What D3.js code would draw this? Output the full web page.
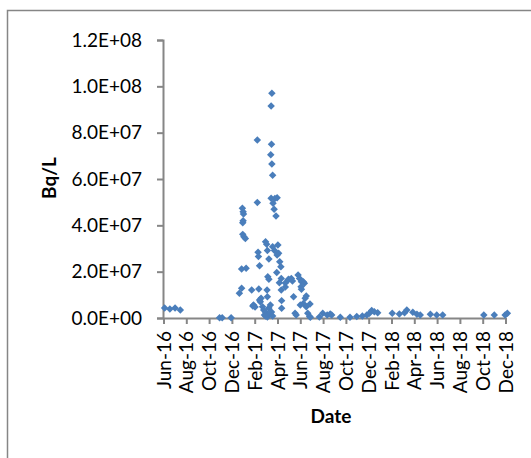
<!DOCTYPE html>
<html>
<head>
<meta charset="utf-8">
<script src="https://cdn.jsdelivr.net/npm/d3@7"></script>
<style>
  body { margin: 0; background: #fff; }
  svg { display: block; font-family: Lato, "Open Sans", sans-serif; }
</style>
</head>
<body>
<svg id="chart" width="531" height="458"></svg>
<script>
// sample dates and activity (Bq/L)
var sampleDates = [
  "2016-06-13", "2016-06-27", "2016-07-11", "2016-07-25", "2016-11-07", "2016-11-14", "2016-12-08",
  "2016-12-30", "2017-01-05", "2017-01-05", "2017-01-17", "2017-01-07", "2017-01-09", "2017-01-10",
  "2017-01-09", "2017-01-08", "2017-01-08", "2017-01-11", "2017-01-15", "2017-02-01", "2017-02-06",
  "2017-02-10", "2017-02-04", "2017-02-16", "2017-02-16", "2017-02-18", "2017-02-19", "2017-02-22",
  "2017-02-20", "2017-02-26", "2017-02-24", "2017-02-22", "2017-03-02", "2017-03-05", "2017-03-07",
  "2017-03-10", "2017-03-15", "2017-03-19", "2017-03-23", "2017-03-26", "2017-03-10", "2017-03-13",
  "2017-03-15", "2017-03-19", "2017-03-16", "2017-03-19", "2017-03-14", "2017-03-15", "2017-03-27",
  "2017-03-25", "2017-03-26", "2017-03-24", "2017-03-27", "2017-03-29", "2017-03-25", "2017-03-30",
  "2017-04-02", "2017-04-07", "2017-04-10", "2017-04-04", "2017-03-29", "2017-04-03", "2017-04-10",
  "2017-04-14", "2017-04-12", "2017-04-17", "2017-04-20", "2017-04-09", "2017-04-21", "2017-04-16",
  "2017-04-21", "2017-04-22", "2017-04-22", "2017-03-21", "2017-03-29", "2017-03-10",
  "2017-05-02", "2017-05-09", "2017-05-11", "2017-05-18", "2017-05-21", "2017-05-02", "2017-06-05",
  "2017-06-09", "2017-06-14", "2017-06-19", "2017-06-22", "2017-06-14", "2017-06-13", "2017-05-24",
  "2017-06-27", "2017-06-24", "2017-06-19", "2017-06-11", "2017-05-28", "2017-05-31", "2017-07-07",
  "2017-06-27", "2017-07-01", "2017-07-06", "2017-07-08",
  "2017-08-01", "2017-08-10", "2017-08-22", "2017-08-30", "2017-09-03", "2017-09-26", "2017-10-22",
  "2017-11-09", "2017-11-24", "2017-12-06", "2017-12-13", "2017-12-19", "2017-12-26", "2018-01-04",
  "2018-02-12", "2018-03-03", "2018-03-17", "2018-03-23", "2018-04-08", "2018-04-19", "2018-04-28",
  "2018-05-25", "2018-06-11", "2018-06-27", "2018-10-15", "2018-11-12", "2018-12-11", "2018-12-17"
];
var sampleValues = [
  4.3e6, 3.9e6, 4.3e6, 3.5e6, 0.13e6, 0.13e6, 0.13e6,
  10.7e6, 12.8e6, 21.2e6, 21.5e6, 47.4e6, 45.9e6, 44.9e6,
  42.0e6, 41.1e6, 36.1e6, 35.1e6, 34.3e6, 12.1e6, 5.6e6,
  4.7e6, 5.2e6, 76.8e6, 49.9e6, 28.4e6, 26.5e6, 22.6e6,
  12.5e6, 8.5e6, 7.0e6, 7.8e6, 4.9e6, 3.5e6, 1.3e6,
  2.6e6, 0.4e6, 4.3e6, 5.6e6, 2.6e6, 32.9e6, 31.8e6,
  29.1e6, 25.5e6, 17.8e6, 16.7e6, 12.1e6, 9.2e6, 97.0e6,
  91.5e6, 75.0e6, 70.5e6, 66.5e6, 61.6e6, 51.7e6, 49.5e6,
  46.9e6, 44.0e6, 51.9e6, 51.6e6, 30.8e6, 29.1e6, 27.2e6,
  27.9e6, 31.5e6, 24.3e6, 22.1e6, 19.6e6, 17.1e6, 15.2e6,
  12.1e6, 7.5e6, 4.2e6, 1.7e6, 0.9e6, 0.9e6,
  15.1e6, 16.4e6, 16.7e6, 17.1e6, 16.0e6, 13.4e6, 18.6e6,
  17.1e6, 15.7e6, 15.7e6, 15.0e6, 12.4e6, 13.5e6, 9.2e6,
  9.5e6, 8.5e6, 6.3e6, 5.6e6, 2.0e6, 1.3e6, 6.0e6,
  4.9e6, 2.0e6, 0.6e6, 0.3e6,
  0.4e6, 2.0e6, 1.3e6, 1.7e6, 1.3e6, 0.3e6, 0.3e6,
  0.6e6, 0.9e6, 1.3e6, 2.0e6, 3.2e6, 2.7e6, 2.3e6,
  2.0e6, 1.7e6, 2.3e6, 3.5e6, 2.5e6, 1.6e6, 1.3e6,
  1.6e6, 1.3e6, 1.3e6, 1.3e6, 1.3e6, 1.3e6, 2.0e6
];
var yTicks = [0, 2e7, 4e7, 6e7, 8e7, 1e8, 1.2e8];
var xStart = "2016-06-10";   // first labelled tick, ticks every 61 days
var xTickCount = 16;
var xTickStepDays = 61;

const parse = d3.timeParse("%Y-%m-%d");
const points = sampleDates.map((d, i) => ({date: parse(d), value: sampleValues[i]}));

const start = parse(xStart);
const xTickVals = d3.range(xTickCount).map(i => d3.timeDay.offset(start, i * xTickStepDays));

const svg = d3.select("#chart");
const axisColor = "#868686";
const tickFont = "19px";

// outer frame (runs off the right and bottom of the picture)
svg.append("rect")
  .attr("x", 7.5).attr("y", 10.5)
  .attr("width", 600).attr("height", 500)
  .attr("fill", "none")
  .attr("stroke", axisColor)
  .attr("stroke-width", 1.5);

const x = d3.scaleTime()
  .domain([start, xTickVals[xTickVals.length - 1]])
  .range([163.5, 505.5]);
const y = d3.scaleLinear()
  .domain([0, 1.2e8])
  .range([318, 40]);

function sciFmt(v) {
  if (v === 0) return "0.0E+00";
  const e = Math.floor(Math.log10(v) + 1e-9);
  const m = v / Math.pow(10, e);
  return m.toFixed(1) + "E+" + String(e).padStart(2, "0");
}

// y axis
const yAxis = svg.append("g")
  .attr("transform", "translate(163,0)")
  .call(d3.axisLeft(y).tickValues(yTicks).tickFormat(sciFmt).tickSizeOuter(0).tickSize(6).tickPadding(15));
yAxis.select(".domain").attr("stroke", axisColor).attr("stroke-width", 2);
yAxis.selectAll(".tick line").attr("stroke", axisColor).attr("stroke-width", 2);
yAxis.selectAll(".tick text")
  .attr("fill", "#000")
  .attr("font-size", tickFont)
  .attr("font-family", "Lato, sans-serif");

// x axis
const xAxis = svg.append("g")
  .attr("transform", "translate(0,318)")
  .call(d3.axisBottom(x).tickValues(xTickVals).tickFormat(d3.timeFormat("%b-%y")).tickSizeOuter(0).tickSize(6));
xAxis.select(".domain").attr("stroke", axisColor).attr("stroke-width", 2);
xAxis.selectAll(".tick line").attr("stroke", axisColor).attr("stroke-width", 2);
xAxis.selectAll(".tick text")
  .attr("fill", "#000")
  .attr("font-size", tickFont)
  .attr("font-family", "Lato, sans-serif")
  .attr("text-anchor", "end")
  .attr("dy", "0.35em")
  .attr("transform", "translate(0,13) rotate(-90)")
  .attr("x", 0).attr("y", 0);

// markers
const diamond = d3.symbol().type(d3.symbolSquare).size(28);
svg.append("g")
  .selectAll("path")
  .data(points)
  .enter()
  .append("path")
  .attr("d", diamond)
  .attr("transform", d => `translate(${x(d.date)},${y(d.value)}) rotate(45)`)
  .attr("fill", "#4A7EBB");

// axis titles
svg.append("text")
  .attr("transform", "translate(56,178) rotate(-90)")
  .attr("text-anchor", "middle")
  .attr("font-size", "19px")
  .attr("font-weight", "bold")
  .attr("font-family", "Lato, sans-serif")
  .text("Bq/L");

svg.append("text")
  .attr("x", 331).attr("y", 423)
  .attr("text-anchor", "middle")
  .attr("font-size", "19px")
  .attr("font-weight", "bold")
  .attr("font-family", "Lato, sans-serif")
  .text("Date");
</script>
</body>
</html>
